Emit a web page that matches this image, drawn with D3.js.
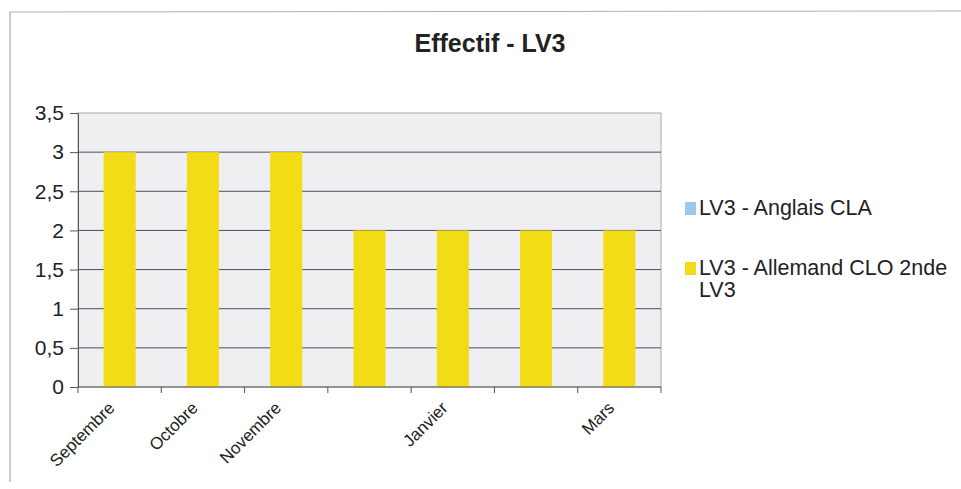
<!DOCTYPE html>
<html>
<head>
<meta charset="utf-8">
<script src="https://cdn.jsdelivr.net/npm/d3@7"></script>
<style>
  body { margin: 0; background: #fff; }
  text { font-family: "Liberation Sans", Arial, sans-serif; fill: #222; }
</style>
</head>
<body>
<div id="chart"></div>
<script>
var months = ["Septembre", "Octobre", "Novembre", "Décembre", "Janvier", "Février", "Mars"]
var shownLabels = ["Septembre", "Octobre", "Novembre", "Janvier", "Mars"]
var anglais = [0, 0, 0, 0, 0, 0, 0]
var allemand = [3, 3, 3, 2, 2, 2, 2]
var yTicks = [0, 0.5, 1, 1.5, 2, 2.5, 3, 3.5]
var seriesNames = ["LV3 - Anglais CLA", "LV3 - Allemand CLO 2nde LV3"]
var seriesColors = ["#9cc8ea", "#f2dc16"]

var W = 961, H = 489
var margin = { top: 113, left: 78, right: 300, bottom: 102 }
  , width = W - margin.left - margin.right
  , height = H - margin.top - margin.bottom

var svg = d3.select("#chart").append("svg")
  .attr("width", W)
  .attr("height", H)

// outer frame (scan edges)
svg.append("line").attr("x1", 10).attr("y1", 12).attr("x2", W).attr("y2", 11)
  .attr("stroke", "#b9a9b0").attr("stroke-width", 1)
svg.append("line").attr("x1", 10).attr("y1", 12).attr("x2", 10).attr("y2", 482)
  .attr("stroke", "#999").attr("stroke-width", 1)

svg.append("text")
  .attr("x", 490).attr("y", 52)
  .attr("text-anchor", "middle")
  .style("font-size", "25px").style("font-weight", "bold")
  .text("Effectif - LV3")

var g = svg.append("g")
  .attr("transform", "translate(" + margin.left + "," + margin.top + ")")

var x = d3.scaleBand().domain(months).range([0, width])
var y = d3.scaleLinear().domain([0, 3.5]).range([height, 0])

g.append("rect")
  .attr("width", width).attr("height", height)
  .attr("fill", "#efeff2")
  .attr("stroke", "#aaa")

// grid
g.selectAll(".grid").data(yTicks.slice(1, -1)).enter().append("line")
  .attr("x1", 0).attr("x2", width)
  .attr("y1", d => y(d)).attr("y2", d => y(d))
  .attr("stroke", "#4a4e63").attr("stroke-width", 1)

// bars
var inner = x.bandwidth() * 0.385
g.selectAll(".bar-a").data(anglais).enter().append("rect")
  .attr("x", (d, i) => x(months[i]) + (x.bandwidth() - inner) / 2)
  .attr("y", d => y(d))
  .attr("width", inner)
  .attr("height", d => height - y(d))
  .attr("fill", seriesColors[0])

g.selectAll(".bar-b").data(allemand).enter().append("rect")
  .attr("x", (d, i) => x(months[i]) + (x.bandwidth() - inner) / 2)
  .attr("y", d => y(d))
  .attr("width", inner)
  .attr("height", d => height - y(d))
  .attr("fill", seriesColors[1])

// y axis
var yAxis = g.append("g")
  .call(d3.axisLeft(y).tickValues(yTicks).tickSize(8).tickPadding(6)
    .tickFormat(d => String(d).replace(".", ",")))
yAxis.select(".domain").attr("stroke", "#555")
yAxis.selectAll(".tick line").attr("stroke", "#555")
yAxis.selectAll("text").style("font-size", "21px").attr("fill", "#222")

// x axis: ticks at category boundaries
var xg = g.append("g").attr("transform", "translate(0," + height + ")")
xg.append("line").attr("x1", 0).attr("x2", width).attr("stroke", "#555")
xg.selectAll(".xt").data(d3.range(months.length + 1)).enter().append("line")
  .attr("x1", d => d * x.step()).attr("x2", d => d * x.step())
  .attr("y1", 0).attr("y2", 6).attr("stroke", "#555")
xg.selectAll(".xl").data(months.filter(m => shownLabels.includes(m))).enter().append("text")
  .attr("text-anchor", "end")
  .attr("transform", d => "translate(" + (x(d) + x.bandwidth() / 2 - 4) + ",22) rotate(-45)")
  .style("font-size", "17px")
  .text(d => d)

// legend
var lg = svg.append("g").attr("transform", "translate(685,0)")
var legendRows = [
  { color: seriesColors[0], y: 215, lines: ["LV3 - Anglais CLA"] },
  { color: seriesColors[1], y: 275, lines: ["LV3 - Allemand CLO 2nde", "LV3"] }
]
legendRows.forEach(function (r) {
  lg.append("rect").attr("x", 0).attr("y", r.y - 13).attr("width", 11).attr("height", 13).attr("fill", r.color)
  var t = lg.append("text").attr("x", 14).attr("y", r.y).style("font-size", "21.5px")
  r.lines.forEach(function (l, i) {
    t.append("tspan").attr("x", 14).attr("dy", i ? 22 : 0).text(l)
  })
})
</script>
</body>
</html>
